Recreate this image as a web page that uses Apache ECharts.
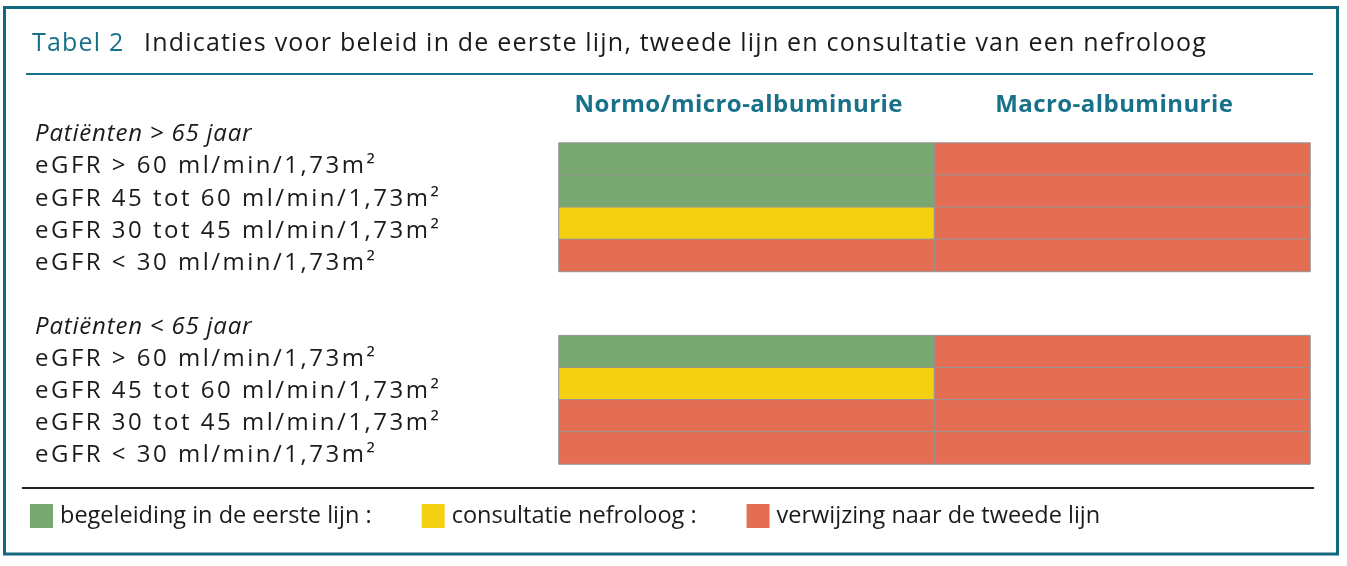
<!DOCTYPE html>
<html><head><meta charset="utf-8">
<script src="https://cdn.jsdelivr.net/npm/echarts@6/dist/echarts.min.js"></script>
<style>html,body{margin:0;padding:0;background:#fff}#c{width:1347px;height:566px}</style>
</head><body><div id="c"></div>
<script>
// ---- data ----
const columns = ['Normo/micro-albuminurie', 'Macro-albuminurie'];
const rowLabels = [
  'Patiënten > 65 jaar',
  'eGFR > 60 ml/min/1,73m²',
  'eGFR 45 tot 60 ml/min/1,73m²',
  'eGFR 30 tot 45 ml/min/1,73m²',
  'eGFR < 30 ml/min/1,73m²',
  '',
  'Patiënten < 65 jaar',
  'eGFR > 60 ml/min/1,73m²',
  'eGFR 45 tot 60 ml/min/1,73m²',
  'eGFR 30 tot 45 ml/min/1,73m²',
  'eGFR < 30 ml/min/1,73m²'
];
const groupHeaderRows = [0, 6];
const over65Rows = [1, 2, 3, 4];
const under65Rows = [7, 8, 9, 10];
// 0 = begeleiding in de eerste lijn, 1 = consultatie nefroloog, 2 = verwijzing naar de tweede lijn
const over65Normo = [0, 0, 1, 2];
const over65Macro = [2, 2, 2, 2];
const under65Normo = [0, 1, 2, 2];
const under65Macro = [2, 2, 2, 2];
const categoryNames = ['begeleiding in de eerste lijn :', 'consultatie nefroloog :', 'verwijzing naar de tweede lijn'];
const categoryColors = ['#78a870', '#f4d012', '#e36e54'];
const titleLabel = 'Tabel 2';
const titleText = 'Indicaties voor beleid in de eerste lijn, tweede lijn en consultatie van een nefroloog';

// ---- letter spacing per text role (typeset tracking) ----
const SPACING = {'n25': 1.2, 'n24': 2.5, 'i24': 0.8, 'b24': 0.45, 'n23.5': 0};
function spacingKey(font) {
  const m = /(\d+(?:\.\d+)?)px/.exec(font || '');
  if (!m) return null;
  const bold = /bold|\b[6-9]00\b/.test(font);
  const it = /italic|oblique/.test(font);
  return (bold ? 'b' : it ? 'i' : 'n') + m[1];
}
(function () {
  const P = CanvasRenderingContext2D.prototype;
  ['fillText', 'strokeText', 'measureText'].forEach(function (fn) {
    const orig = P[fn];
    P[fn] = function () {
      const k = spacingKey(this.font);
      const s = (k && SPACING[k]) || 0;
      try { this.letterSpacing = s + 'px'; } catch (e) {}
      return orig.apply(this, arguments);
    };
  });
})();

const data = [];
over65Normo.forEach((v, i) => data.push([0, over65Rows[i], v]));
over65Macro.forEach((v, i) => data.push([1, over65Rows[i], v]));
under65Normo.forEach((v, i) => data.push([0, under65Rows[i], v]));
under65Macro.forEach((v, i) => data.push([1, under65Rows[i], v]));

const FONT = '"Open Sans", "Noto Sans", sans-serif';
const TEAL = '#17718a';
const labelStyle = {
  align: 'left', verticalAlign: 'top', lineHeight: 15,
  fontFamily: FONT, fontSize: 24, color: '#1a1a1a'
};
const chart = echarts.init(document.getElementById('c'), null, {renderer: 'canvas'});
chart.setOption({
  animation: false,
  title: [
    {left: 32, top: 31, padding: 0, text: titleLabel,
     textStyle: {fontFamily: FONT, fontSize: 25, fontWeight: 'normal', color: TEAL}},
    {left: 144, top: 31, padding: 0, text: titleText,
     textStyle: {fontFamily: FONT, fontSize: 25, fontWeight: 'normal', color: '#1a1a1a'}}
  ],
  grid: {left: 559, right: 37, top: 111, bottom: 102, containLabel: false, outerBoundsMode: 'none'},
  xAxis: {
    type: 'category', position: 'top', data: columns,
    axisLine: {show: false}, axisTick: {show: false}, splitLine: {show: false},
    axisLabel: {interval: 0, margin: 6, verticalAlign: 'middle', padding: [0, 16, 0, 0],
      fontFamily: FONT, fontWeight: 'bold', fontSize: 24, color: TEAL}
  },
  yAxis: {
    type: 'category', inverse: true,
    data: rowLabels.map((v, i) => groupHeaderRows.indexOf(i) >= 0
      ? {value: v, textStyle: Object.assign({}, labelStyle, {fontStyle: 'italic'})} : v),
    axisLine: {show: false}, axisTick: {show: false}, splitLine: {show: false},
    axisLabel: Object.assign({margin: 524, interval: 0}, labelStyle)
  },
  visualMap: {
    type: 'piecewise', show: true, orient: 'horizontal', padding: 0,
    left: 30, top: 504, itemWidth: 23, itemHeight: 24, itemGap: 50, textGap: 7,
    itemSymbol: 'rect', selectedMode: false, hoverLink: false,
    pieces: categoryNames.map((n, i) => ({value: i, label: n, color: categoryColors[i]})),
    textStyle: {fontFamily: FONT, fontSize: 23.5, color: '#1a1a1a'}
  },
  series: [{
    type: 'heatmap', data: data,
    itemStyle: {borderColor: '#959595', borderWidth: 1},
    emphasis: {disabled: true}, label: {show: false}
  }],
  graphic: [
    {type: 'rect', shape: {x: 4.5, y: 7.5, width: 1333, height: 546.5}, style: {fill: 'none', stroke: '#12697f', lineWidth: 3}},
    {type: 'line', shape: {x1: 26, y1: 74, x2: 1313, y2: 74}, style: {stroke: TEAL, lineWidth: 2}},
    {type: 'line', shape: {x1: 22, y1: 488, x2: 1314, y2: 488}, style: {stroke: '#222', lineWidth: 2}}
  ]
});
</script></body></html>
